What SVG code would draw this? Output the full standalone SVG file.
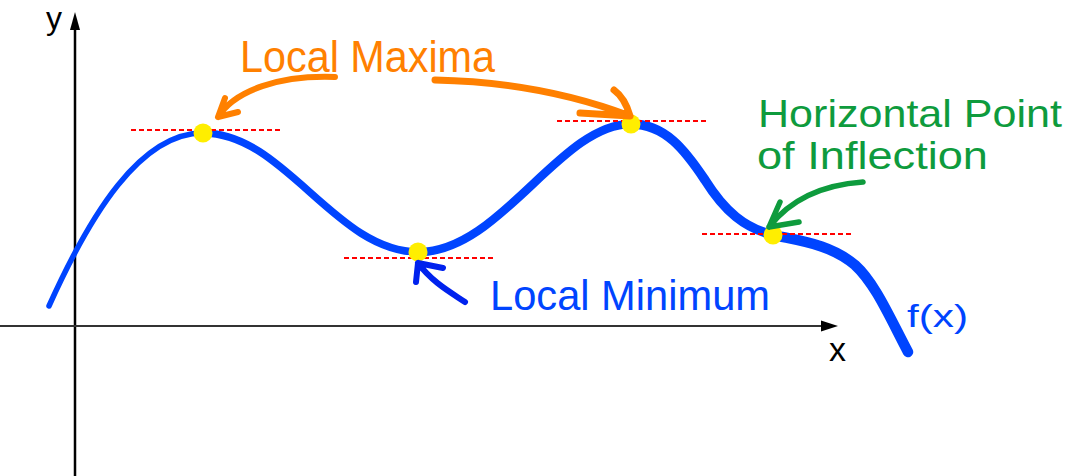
<svg xmlns="http://www.w3.org/2000/svg" width="1074" height="476" viewBox="0 0 1074 476">
<style>
.lbl{font-family:"Liberation Sans",Arial,sans-serif;}
.tan{stroke:#ff0000;stroke-width:2;stroke-dasharray:5 3;fill:none}
.crv{fill:none;stroke:#0044ff;stroke-linecap:round;stroke-linejoin:round}
.pt{fill:#ffee00}
.arr{fill:none;stroke-linecap:round;stroke-linejoin:round}
</style>
<rect width="1074" height="476" fill="#fff"/>
<g id="axes">
<line x1="75" y1="476" x2="75" y2="28" stroke="#000" stroke-width="2.5"/>
<polygon points="75,12 70,30 80,30" fill="#000"/>
<line x1="0" y1="326" x2="825" y2="326" stroke="#333" stroke-width="2.2"/>
<polygon points="838,326 821,320.5 821,331.5" fill="#000"/>
<text class="lbl" x="46" y="29" font-size="32" fill="#000">y</text>
<text class="lbl" x="829" y="361" font-size="34" fill="#000">x</text>
</g>
<g id="curve">
<path class="crv" stroke-width="5.5" d="M49,306 C90,215 140,133 203,133"/>
<path class="crv" stroke-width="7.5" d="M203,133 C285,133 335,252 419,252"/>
<path class="crv" stroke-width="8.5" d="M419,252 C500,252 560,124 631,124"/>
<path class="crv" stroke-width="9.5" d="M631,124 C665,124 685,150 705,180 C725,212 745,228 773,235"/>
<path class="crv" stroke-width="10.5" d="M773,235 C800,241 830,244 855,265 C875,283 890,318 908,352"/>
<text class="lbl" x="907" y="327" font-size="32" fill="#0044ff" textLength="61" lengthAdjust="spacingAndGlyphs">f(x)</text>
</g>
<g id="tangents">
<line class="tan" x1="131" y1="130" x2="282" y2="130"/>
<line class="tan" x1="557" y1="121" x2="708" y2="121"/>
<line class="tan" x1="344" y1="258" x2="494" y2="258"/>
<line class="tan" x1="702" y1="234" x2="853" y2="234"/>
</g>
<g id="max1"><circle class="pt" cx="203" cy="133" r="9.5"/></g>
<g id="max2"><circle class="pt" cx="631" cy="124" r="9.5"/></g>
<g id="min"><circle class="pt" cx="418" cy="252" r="9.5"/></g>
<g id="inflection"><circle class="pt" cx="773" cy="235" r="9.5"/></g>
<g id="label-maxima"><text class="lbl" x="240" y="72" font-size="44" fill="#ff8000" textLength="255" lengthAdjust="spacingAndGlyphs">Local Maxima</text></g>
<g id="label-minimum"><text class="lbl" x="490" y="310" font-size="42" fill="#0044ff" textLength="280" lengthAdjust="spacingAndGlyphs">Local Minimum</text></g>
<g id="label-inflection">
<text class="lbl" x="758" y="127" font-size="39" fill="#0e9b3d" textLength="304" lengthAdjust="spacingAndGlyphs">Horizontal Point</text>
<text class="lbl" x="757" y="169" font-size="39" fill="#0e9b3d" textLength="231" lengthAdjust="spacingAndGlyphs">of Inflection</text>
</g>
<g id="connectors">
<path class="arr" stroke="#ff8000" stroke-width="6" d="M335,77 C280,75 235,90 218,117 M218,117 L225,98 M218,117 L238,112"/>
<path class="arr" stroke="#ff8000" stroke-width="7" d="M435,80 Q540,82 630,116 M630,116 Q625,98 614,90 M630,116 L580,113"/>
<path class="arr" stroke="#0022ee" stroke-width="6" d="M465,302 C450,292 432,282 418,263 M418,263 L416,282 M418,263 L443,268"/>
<path class="arr" stroke="#0e9b3d" stroke-width="5.5" d="M863,182 C820,185 790,200 769,227 M769,227 L780,202 M769,227 L799,222"/>
</g>
</svg>
